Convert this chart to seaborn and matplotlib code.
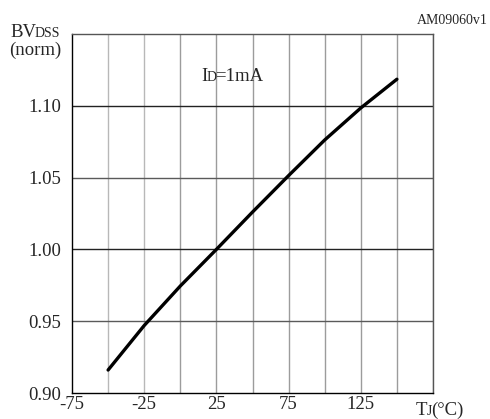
import matplotlib
matplotlib.use("Agg")
import matplotlib.pyplot as plt
import seaborn as sns
import pandas as pd

temps = [-50, -25, 0, 25, 50, 75, 100, 125, 150]
bv_norm = [0.916, 0.947, 0.9745, 1.000, 1.026, 1.0514, 1.0762, 1.0985, 1.1185]
x_ticks = [-75, -25, 25, 75, 125]
y_ticks = [0.90, 0.95, 1.00, 1.05, 1.10]

sns.set_style("white")
plt.rcParams['font.family'] = ['Liberation Serif', 'DejaVu Serif']

df = pd.DataFrame({"T": temps, "BV": bv_norm})

W, H = 490, 419
fig = plt.figure(figsize=(W / 100, H / 100), dpi=100)
ax = fig.add_axes([72/W, 26/H, 361/W, 359/H])

for xv in range(-50, 176, 25):
    ax.axvline(xv, color="#b8b8b8" if xv < 0 else "#9c9c9c", lw=1.0, zorder=0)
for yv in [0.95, 1.00, 1.05, 1.10]:
    ax.axhline(yv, color="#222222" if yv in (1.00, 1.10) else "#5a5a5a", lw=1.0, zorder=0)

sns.lineplot(data=df, x="T", y="BV", ax=ax, color="black", lw=2.4, zorder=3)

ax.set_xlim(-75, 175)
ax.set_ylim(0.90, 1.15)
ax.set_xticks(x_ticks)
ax.set_xticklabels([str(v) for v in x_ticks], fontsize=13.5)
ax.set_yticks(y_ticks)
ax.set_yticklabels([f"{v:.2f}" for v in y_ticks], fontsize=13.5)
ax.tick_params(axis="x", length=0, pad=2)
ax.tick_params(axis="y", length=0, pad=8)
ax.set_xlabel("")
ax.set_ylabel("")
for s in ["left", "bottom"]:
    ax.spines[s].set_color("black")
    ax.spines[s].set_linewidth(1.0)
for s in ["top", "right"]:
    ax.spines[s].set_color("#555555")
    ax.spines[s].set_linewidth(1.0)

fig.canvas.draw()
renderer = fig.canvas.get_renderer()


def pieces(x_px, y_px, parts):
    """Place text parts left-to-right on a common baseline (pixel coords from top-left)."""
    x = x_px
    for txt, size in parts:
        t = fig.text(x / W, 1 - y_px / H, txt, ha="left", va="baseline", fontsize=size)
        bb = t.get_window_extent(renderer=renderer)
        x += bb.width - 1.0


pieces(10, 37, [("BV", 13.5), ("DSS", 10)])
fig.text(35 / W, 1 - 50 / H, "(norm)", ha="center", va="center", fontsize=13.5)
pieces(201, 81, [("I", 13.5), ("D", 10), ("=1mA", 13.5)])
pieces(416, 415, [("T", 13.5), ("J", 10), ("(°C)", 13.5)])
fig.text(488 / W, 1 - 21 / H, "AM09060v1", ha="right", va="center", fontsize=10)

fig.savefig("out.png", dpi=100)
